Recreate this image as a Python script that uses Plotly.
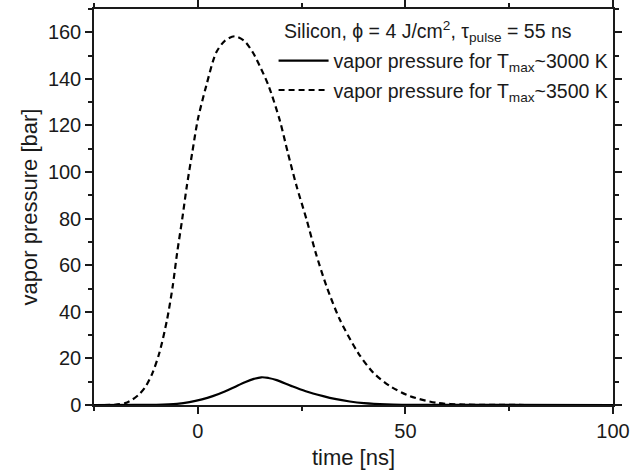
import plotly.graph_objects as go

# ---- data ----
t_3500 = [-25, -20, -17.5, -15.7, -14.0, -12.5, -10.9, -9.25, -7.4, -6.04, -4.98, -3.77,
          -2.65, -1.35, 0, 2.0, 4.4, 6.5, 8.9, 11.2, 13.3, 15.2, 17.1, 19.7, 21.7, 23.8,
          26.2, 28.4, 31.0, 34.2, 38.6, 42.3, 46.3, 51.1, 57.6, 64, 70, 100]
p_3500 = [0, 0.1, 0.8, 2.4, 4.8, 8.1, 13.8, 22.4, 36.7, 51.0, 65.3, 79.6,
          93.9, 108.2, 122.5, 136.8, 151.2, 156.3, 158.3, 156.3, 151.2, 144.5, 136.8, 122.5, 108.2, 93.9,
          79.6, 65.3, 51.0, 36.7, 22.4, 13.8, 8.1, 3.8, 0.9, 0.2, 0.05, 0]

t_3000 = [-25, -15, -10, -5, -2, 1.0, 3.6, 6.5, 9.3, 11.5, 13.5, 15.3, 17.0, 19.0, 22.6, 26.0,
          30.2, 33.0, 36.6, 40.0, 45.4, 50, 55, 100]
p_3000 = [0, 0.03, 0.1, 0.5, 1.2, 2.4, 3.8, 5.8, 8.1, 9.9, 11.2, 11.9, 11.6, 10.7, 8.1, 5.9,
          3.8, 2.6, 1.5, 0.8, 0.25, 0.08, 0.02, 0]

x_ticks = [0, 50, 100]
y_ticks = [0, 20, 40, 60, 80, 100, 120, 140, 160]

name_3000 = "vapor pressure for T<sub>max</sub>~3000 K"
name_3500 = "vapor pressure for T<sub>max</sub>~3500 K"
header_text = "Silicon, \u03d5 = 4 J/cm<sup>2</sup>, \u03c4<sub>pulse</sub> = 55 ns"

FONT = "Liberation Sans, Arial, sans-serif"
INK = "#1a1a1a"

fig = go.Figure()
fig.add_trace(go.Scatter(x=t_3000, y=p_3000, mode="lines", name=name_3000, legendgroup="a",
                         line=dict(color="black", width=2.2, shape="spline", smoothing=1.0)))
fig.add_trace(go.Scatter(x=t_3500, y=p_3500, mode="lines", name=name_3500, legendgroup="b",
                         line=dict(color="black", width=2.2, dash="6px,4px", shape="spline", smoothing=0.8)))

axis_common = dict(showline=True, linecolor=INK, linewidth=1.5, mirror="allticks",
                   ticks="outside", ticklen=7, tickwidth=1.5, tickcolor=INK,
                   showgrid=False, zeroline=False, automargin=False,
                   tickfont=dict(family=FONT, size=20, color=INK),
                   title_font=dict(family=FONT, size=22, color=INK))

fig.update_xaxes(range=[-25, 100], tickvals=x_ticks,
                 minor=dict(dtick=25, tick0=0, ticks="outside", ticklen=4, tickwidth=1.5, tickcolor=INK),
                 title_text="time [ns]", title_standoff=9, **axis_common)
fig.update_yaxes(range=[0, 170], tickvals=y_ticks,
                 minor=dict(dtick=10, tick0=0, ticks="outside", ticklen=4, tickwidth=1.5, tickcolor=INK),
                 title_text="vapor pressure [bar]", title_standoff=4, **axis_common)

fig.add_annotation(text=header_text, xref="paper", yref="paper", x=0.362, y=0.942,
                   xanchor="left", yanchor="middle", showarrow=False,
                   font=dict(family=FONT, size=19.5, color=INK))

fig.update_layout(
    width=630, height=475,
    margin=dict(l=94, r=17, t=9, b=70),
    plot_bgcolor="white", paper_bgcolor="white",
    font=dict(family=FONT, color=INK),
    showlegend=True,
    legend=dict(x=0.346, y=0.918, xanchor="left", yanchor="top",
                bgcolor="rgba(0,0,0,0)", borderwidth=0,
                font=dict(family=FONT, size=19.5, color=INK),
                itemwidth=50, traceorder="grouped", tracegroupgap=1),
)

fig.write_html("out.html", config={"displayModeBar": False},
               post_script="document.body.style.margin='0';")
